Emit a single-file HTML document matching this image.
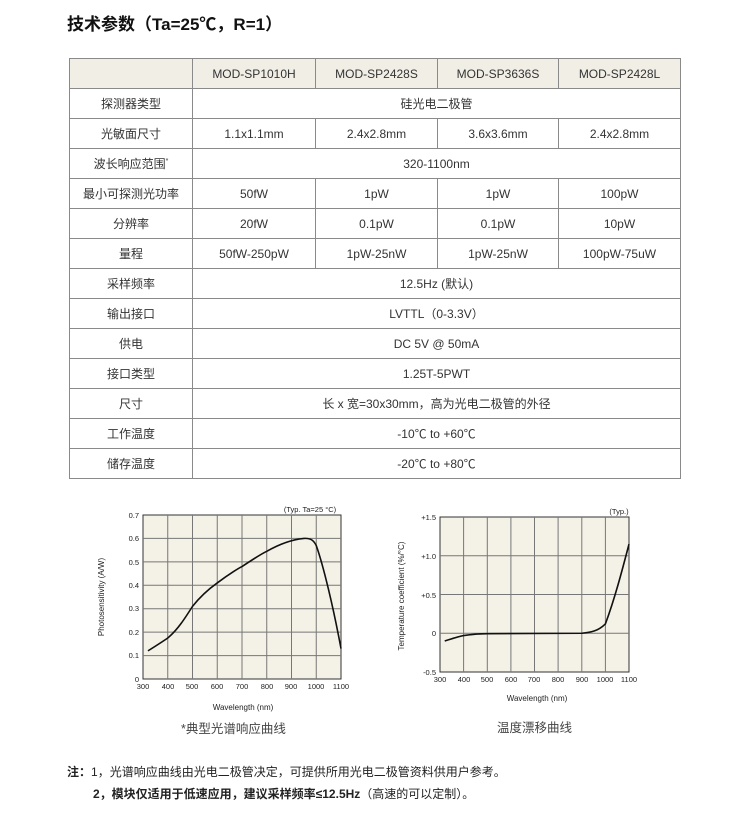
<!DOCTYPE html>
<html><head><meta charset="utf-8"><style>
body{margin:0;background:#fff;width:750px;height:821px;position:relative;font-family:"Liberation Sans","Noto Sans CJK SC",sans-serif;color:#222}
h1{position:absolute;left:67px;top:10px;margin:0;font-size:17px;font-weight:bold;color:#111}
table{position:absolute;left:69px;top:58px;border-collapse:collapse;font-size:12px}
td{border:1px solid #8a8a8a;height:29px;padding:0;text-align:center;color:#333}
tr:first-child td{background:#f1eee6}
.n{position:absolute;left:67px;font-size:12px;color:#222}
.cap{position:absolute;font-size:12.5px;color:#444}
</style></head><body>
<h1>技术参数（Ta=25℃，R=1）</h1>
<table>
<colgroup><col style="width:123px"><col style="width:123px"><col style="width:122px"><col style="width:121px"><col style="width:122px"></colgroup>
<tr><td></td><td>MOD-SP1010H</td><td>MOD-SP2428S</td><td>MOD-SP3636S</td><td>MOD-SP2428L</td></tr>
<tr><td>探测器类型</td><td colspan="4">硅光电二极管</td></tr>
<tr><td>光敏面尺寸</td><td>1.1x1.1mm</td><td>2.4x2.8mm</td><td>3.6x3.6mm</td><td>2.4x2.8mm</td></tr>
<tr><td>波长响应范围<sup style="font-size:7px">*</sup></td><td colspan="4">320-1100nm</td></tr>
<tr><td>最小可探测光功率</td><td>50fW</td><td>1pW</td><td>1pW</td><td>100pW</td></tr>
<tr><td>分辨率</td><td>20fW</td><td>0.1pW</td><td>0.1pW</td><td>10pW</td></tr>
<tr><td>量程</td><td>50fW-250pW</td><td>1pW-25nW</td><td>1pW-25nW</td><td>100pW-75uW</td></tr>
<tr><td>采样频率</td><td colspan="4">12.5Hz (默认)</td></tr>
<tr><td>输出接口</td><td colspan="4">LVTTL（0-3.3V）</td></tr>
<tr><td>供电</td><td colspan="4">DC 5V @ 50mA</td></tr>
<tr><td>接口类型</td><td colspan="4">1.25T-5PWT</td></tr>
<tr><td>尺寸</td><td colspan="4">长 x 宽=30x30mm，高为光电二极管的外径</td></tr>
<tr><td>工作温度</td><td colspan="4">-10℃ to +60℃</td></tr>
<tr><td>储存温度</td><td colspan="4">-20℃ to +80℃</td></tr>
</table>
<svg width="750" height="821" style="position:absolute;left:0;top:0" font-family="Liberation Sans,sans-serif">
<g stroke="#777" stroke-width="1">
<rect x="143" y="515" width="198" height="164" fill="#f4f1e7" stroke="#333"/>
<path d="M167.75 515V679M192.5 515V679M217.25 515V679M242 515V679M266.75 515V679M291.5 515V679M316.25 515V679M143 538.4H341M143 561.9H341M143 585.3H341M143 608.7H341M143 632.1H341M143 655.6H341"/>
<rect x="440" y="517" width="189" height="155" fill="#f4f1e7" stroke="#333"/>
<path d="M463.6 517V672M487.3 517V672M510.9 517V672M534.5 517V672M558.1 517V672M581.8 517V672M605.4 517V672M440 555.75H629M440 594.5H629M440 633.25H629"/>
</g>
<g transform="translate(143,679) scale(0.2475,-234.29) translate(-300,0)">
<path vector-effect="non-scaling-stroke" fill="none" stroke="#111" stroke-width="1.6" d="M320 0.12 C350 0.14 380 0.16 400 0.175 C440 0.21 470 0.26 500 0.31 C530 0.35 560 0.38 600 0.41 C650 0.45 690 0.475 700 0.48 C750 0.515 780 0.535 800 0.545 C850 0.575 900 0.595 950 0.6 C980 0.602 990 0.59 1000 0.57 C1030 0.48 1070 0.3 1100 0.13"/>
</g>
<g transform="translate(440,633.25) scale(0.23625,-77.5) translate(-300,0)">
<path vector-effect="non-scaling-stroke" fill="none" stroke="#111" stroke-width="1.6" d="M320 -0.1 C350 -0.07 380 -0.04 400 -0.03 C440 -0.01 480 -0.005 500 -0.005 L900 0 C940 0.01 970 0.03 1000 0.12 C1040 0.45 1070 0.8 1100 1.15"/>
</g>
<g font-size="7.5" fill="#222" text-anchor="end">
<text x="139" y="518">0.7</text><text x="139" y="541">0.6</text><text x="139" y="565">0.5</text><text x="139" y="588">0.4</text><text x="139" y="611">0.3</text><text x="139" y="635">0.2</text><text x="139" y="658">0.1</text><text x="139" y="682">0</text>
<text x="436" y="520">+1.5</text><text x="436" y="559">+1.0</text><text x="436" y="598">+0.5</text><text x="436" y="636">0</text><text x="436" y="675">-0.5</text>
</g>
<g font-size="7.5" fill="#222" text-anchor="middle">
<text x="143" y="689">300</text><text x="168" y="689">400</text><text x="192" y="689">500</text><text x="217" y="689">600</text><text x="242" y="689">700</text><text x="267" y="689">800</text><text x="291" y="689">900</text><text x="316" y="689">1000</text><text x="341" y="689">1100</text>
<text x="440" y="682">300</text><text x="464" y="682">400</text><text x="487" y="682">500</text><text x="511" y="682">600</text><text x="534" y="682">700</text><text x="558" y="682">800</text><text x="582" y="682">900</text><text x="605" y="682">1000</text><text x="629" y="682">1100</text>
<text x="243" y="710" font-size="8">Wavelength (nm)</text>
<text x="537" y="701" font-size="8">Wavelength (nm)</text>
<text x="310" y="512">(Typ. Ta=25 °C)</text>
<text x="619" y="514">(Typ.)</text>
<text transform="translate(104,597) rotate(-90)" font-size="8">Photosensitivity (A/W)</text>
<text transform="translate(404,596) rotate(-90)" font-size="8">Temperature coefficient (%/°C)</text>
</g>
</svg>
<div class="cap" style="left:181px;top:718px">*典型光谱响应曲线</div>
<div class="cap" style="left:497px;top:717px">温度漂移曲线</div>
<div class="n" style="top:763px"><b>注：</b>1，光谱响应曲线由光电二极管决定，可提供所用光电二极管资料供用户参考。</div>
<div class="n" style="top:785px;left:93px"><b>2，模块仅适用于低速应用，建议采样频率≤12.5Hz</b>（高速的可以定制）。</div>
</body></html>
